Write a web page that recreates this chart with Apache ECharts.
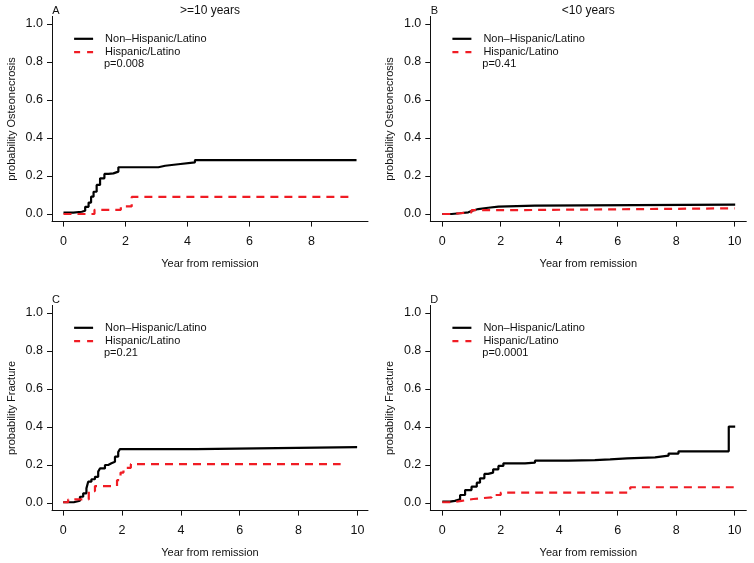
<!DOCTYPE html>
<html>
<head>
<meta charset="utf-8">
<title>Cumulative incidence by ethnicity</title>
<script src="https://cdn.jsdelivr.net/npm/echarts@6/dist/echarts.min.js"></script>
<style>
  html, body { margin: 0; padding: 0; background: #fff; }
  #chart { width: 754px; height: 563px; }
</style>
</head>
<body>
<div id="chart"></div>
<script>
// A: osteonecrosis, >=10 years
const aNonTime = [0, 0.32, 0.59, 0.70, 0.81, 0.89, 0.97, 1.07, 1.18, 1.32, 1.45, 1.61, 1.77, 3.06, 3.28, 3.70, 4.24, 9.45]
const aNonProb = [0.007, 0.012, 0.017, 0.038, 0.06, 0.091, 0.117, 0.153, 0.188, 0.211, 0.214, 0.223, 0.246, 0.254, 0.262, 0.272, 0.284, 0.284]
const aHisTime = [0, 1.0, 1.85, 2.2, 9.3]
const aHisProb = [0, 0.022, 0.04, 0.09, 0.09]

// B: osteonecrosis, <10 years
const bNonTime = [0, 0.32, 0.6, 0.89, 1.0, 1.23, 1.57, 1.92, 3.17, 10.02]
const bNonProb = [0, 0.004, 0.009, 0.016, 0.026, 0.033, 0.039, 0.044, 0.049, 0.049]
const bHisTime = [0, 0.38, 0.6, 1.0, 2.3, 10.0]
const bHisProb = [0, 0.004, 0.009, 0.02, 0.03, 0.03]

// C: fracture, >=10 years
const cNonTime = [0, 0.36, 0.57, 0.68, 0.79, 0.85, 0.96, 1.08, 1.19, 1.25, 1.42, 1.53, 1.64, 1.76, 1.87, 1.93, 4.53, 9.99]
const cNonProb = [0.004, 0.012, 0.033, 0.051, 0.077, 0.112, 0.125, 0.138, 0.165, 0.182, 0.2, 0.209, 0.217, 0.244, 0.268, 0.284, 0.294, 0.294]
const cHisTime = [0, 0.17, 0.87, 1.08, 1.83, 1.95, 2.05, 2.3, 9.43]
const cHisProb = [0.004, 0.019, 0.063, 0.089, 0.12, 0.16, 0.185, 0.205, 0.205]

// D: fracture, <10 years
const dNonTime = [0, 0.26, 0.43, 0.61, 0.78, 1.0, 1.18, 1.29, 1.44, 1.57, 1.74, 1.92, 2.09, 2.83, 3.17, 4.31, 5.22, 5.74, 6.32, 7.28, 7.74, 8.08, 9.8, 10.02]
const dNonProb = [0.007, 0.011, 0.019, 0.042, 0.068, 0.086, 0.107, 0.13, 0.153, 0.16, 0.177, 0.195, 0.209, 0.212, 0.223, 0.226, 0.23, 0.235, 0.24, 0.249, 0.26, 0.272, 0.402, 0.402]
const dHisTime = [0, 0.38, 0.66, 1.06, 1.69, 2.0, 6.43, 9.97]
const dHisProb = [0.004, 0.011, 0.021, 0.03, 0.042, 0.055, 0.083, 0.083]

const groupNames = ['Non–Hispanic/Latino', 'Hispanic/Latino']
const pValues = ['p=0.008', 'p=0.41', 'p=0.21', 'p=0.0001']
const panelLetters = ['A', 'B', 'C', 'D']
const panelTitles = ['>=10 years', '<10 years', '', '']
const yTicks = [0, 0.2, 0.4, 0.6, 0.8, 1.0]
const xTicksA = [0, 2, 4, 6, 8]
const xTicks = [0, 2, 4, 6, 8, 10]

const font = 'Liberation Sans, Arial, Helvetica, sans-serif'
const ink = '#111'
const red = '#f01c24'
const gridW = 316
const gridH = 205.2

const panels = [
  { left: 52, top: 16.4, xMin: -0.37, xMax: 9.82, xTicks: xTicksA, yName: 'probability Osteonecrosis',
    non: [aNonTime, aNonProb], his: [aHisTime, aHisProb] },
  { left: 430.3, top: 16.4, xMin: -0.41, xMax: 10.4, xTicks: xTicks, yName: 'probability Osteonecrosis',
    non: [bNonTime, bNonProb], his: [bHisTime, bHisProb] },
  { left: 52, top: 305.4, xMin: -0.38, xMax: 10.36, xTicks: xTicks, yName: 'probability Fracture',
    non: [cNonTime, cNonProb], his: [cHisTime, cHisProb] },
  { left: 430.3, top: 305.4, xMin: -0.41, xMax: 10.4, xTicks: xTicks, yName: 'probability Fracture',
    non: [dNonTime, dNonProb], his: [dHisTime, dHisProb] }
]

function zip(t, p) {
  return t.map((v, i) => [v, p[i]])
}

const grid = [], xAxis = [], yAxis = [], series = [], legend = [], graphic = []
const noSymbol = { color: 'rgba(0,0,0,0)', borderWidth: 0, opacity: 0 }

panels.forEach((pn, i) => {
  grid.push({ left: pn.left, top: pn.top, width: gridW, height: gridH })
  xAxis.push({
    type: 'value', gridIndex: i, min: pn.xMin, max: pn.xMax,
    name: 'Year from remission', nameLocation: 'middle', nameGap: 37,
    nameTextStyle: { fontFamily: font, fontSize: 11, color: ink },
    axisLine: { onZero: false, lineStyle: { color: ink, width: 1 } },
    axisTick: { length: 5, customValues: pn.xTicks, lineStyle: { color: ink } },
    axisLabel: { customValues: pn.xTicks, margin: 13, fontFamily: font, fontSize: 12.5, color: ink },
    splitLine: { show: false }
  })
  yAxis.push({
    type: 'value', gridIndex: i, min: -0.04, max: 1.04,
    name: pn.yName, nameLocation: 'middle', nameRotate: 90, nameGap: 35,
    nameTextStyle: { fontFamily: font, fontSize: 11, color: ink },
    axisLine: { show: true, onZero: false, lineStyle: { color: ink, width: 1 } },
    axisTick: { show: true, length: 5, customValues: yTicks, lineStyle: { color: ink } },
    axisLabel: { customValues: yTicks, margin: 9, fontFamily: font, fontSize: 12.5, color: ink,
      formatter: v => v.toFixed(1) },
    splitLine: { show: false }
  })
  series.push({
    name: groupNames[0], type: 'line', step: 'end', xAxisIndex: i, yAxisIndex: i,
    symbol: 'none', data: zip(pn.non[0], pn.non[1]),
    lineStyle: { color: '#000', width: 2.2 }, itemStyle: { color: '#000' }
  })
  series.push({
    name: groupNames[1], type: 'line', step: 'end', xAxisIndex: i, yAxisIndex: i,
    symbol: 'none', data: zip(pn.his[0], pn.his[1]),
    lineStyle: { color: red, width: 2.2, type: [8, 6] }, itemStyle: { color: red }
  })

  const row1 = pn.top + 22.4
  legend.push({
    orient: 'vertical', left: pn.left + 21, top: row1 - 6.5,
    itemWidth: 19, itemHeight: 13, itemGap: 0.4, padding: 0,
    itemStyle: noSymbol,
    data: [
      { name: groupNames[0], itemStyle: noSymbol, lineStyle: { color: '#000', width: 2.2 } },
      { name: groupNames[1], itemStyle: noSymbol, lineStyle: { color: red, width: 2.2, type: [6, 7] } }
    ],
    textStyle: { fontFamily: font, fontSize: 11, color: ink, lineHeight: 13, padding: [0, 0, 0, 7] }
  })

  graphic.push({
    type: 'text', left: pn.left + 52, top: row1 + 26.6 - 6.5,
    style: { text: pValues[i], font: '11px ' + font, fill: ink }
  })
  graphic.push({
    type: 'text', x: pn.left + 4, y: pn.top - 5.4,
    style: { text: panelLetters[i], font: '11px ' + font, fill: ink, align: 'center', verticalAlign: 'middle' }
  })
  if (panelTitles[i]) {
    graphic.push({
      type: 'text', x: pn.left + gridW / 2, y: pn.top - 5.4,
      style: { text: panelTitles[i], font: '12px ' + font, fill: ink, align: 'center', verticalAlign: 'middle' }
    })
  }
})

const chart = echarts.init(document.getElementById('chart'))
chart.setOption({
  animation: false,
  backgroundColor: '#fff',
  textStyle: { fontFamily: font },
  grid, xAxis, yAxis, series, legend, graphic
})
</script>
</body>
</html>
